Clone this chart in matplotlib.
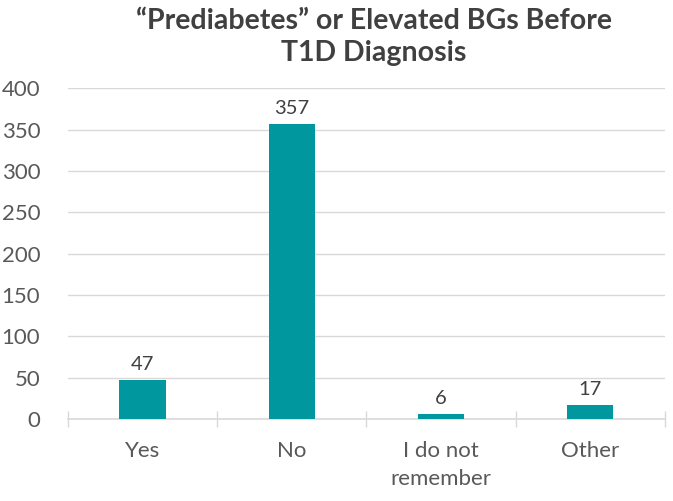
import matplotlib.pyplot as plt
import numpy as np

categories = ['Yes', 'No', 'I do not\nremember', 'Other']
counts = [47, 357, 6, 17]

plt.rcParams['font.family'] = ['Lato', 'DejaVu Sans']

fig = plt.figure(figsize=(6.73, 5.01), dpi=100)
ax = fig.add_axes([0.101, 0.164, 0.887, 0.660])

pos = np.arange(len(categories))
bars = ax.bar(pos, counts, width=0.31, color='#00979F', zorder=3)

for x, v in zip(pos, counts):
    ax.text(x, v + 8, str(v), ha='center', va='bottom', fontsize=14.5, color='#404040')

ax.set_xlim(-0.5, len(categories) - 0.5)
ax.set_ylim(0, 400)
ax.set_yticks(range(0, 401, 50))
ax.grid(axis='y', color='#d9d9d9', linewidth=1, zorder=0)

for s in ['top', 'right', 'left']:
    ax.spines[s].set_visible(False)
ax.spines['bottom'].set_color('#d9d9d9')
ax.spines['bottom'].set_linewidth(1.2)

ax.set_xticks(pos)
ax.set_xticklabels(categories, fontsize=16, color='#595959', linespacing=1.5)
ax.tick_params(axis='x', length=0, pad=16)
ax.set_xticks(np.arange(-0.5, len(categories)), minor=True)
ax.tick_params(axis='x', which='minor', direction='inout', length=12, color='#d9d9d9', width=1)
ax.tick_params(axis='y', length=0, labelsize=16, labelcolor='#595959', pad=20)

fig.text(0.555, 0.985, '\u201cPrediabetes\u201d or Elevated BGs Before\nT1D Diagnosis',
         ha='center', va='top', fontsize=20.5, fontweight='bold', color='#404040', linespacing=1.3)

fig.savefig('out.png', dpi=100)
